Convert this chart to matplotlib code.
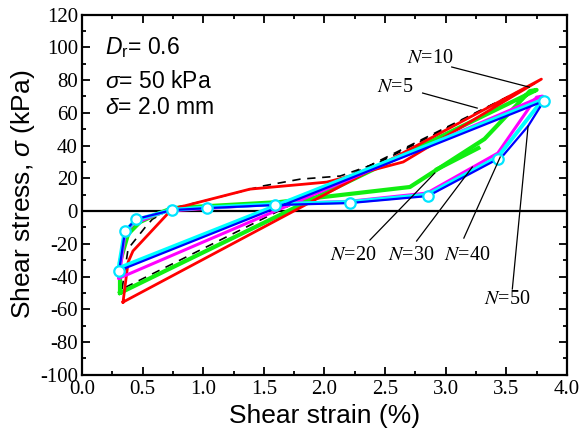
import numpy as np
import matplotlib.pyplot as plt

plt.rcParams['axes.unicode_minus'] = False
plt.rcParams['mathtext.fontset'] = 'custom'
plt.rcParams['mathtext.rm'] = 'Liberation Sans'
plt.rcParams['mathtext.it'] = 'Liberation Sans:italic'

# loops: loading branch, then straight unloading back to the start
n5_x = [0.33, 0.38, 0.52, 0.58, 0.74, 0.97, 1.49, 1.80, 2.13, 2.46, 3.76, 0.33]
n5_y = [-47.6, -23, -10, -5, 1.8, 5.5, 15.3, 19.5, 21.4, 30, 79, -47.6]

n10_x = [0.338, 0.38, 0.42, 0.742, 1.385, 2.02, 2.65, 3.79, 0.338]
n10_y = [-55.6, -31.2, -24.4, 1.2, 13.4, 17.7, 30, 80.6, -55.6]

n20_x = [0.313, 0.313, 0.38, 0.478, 0.62, 0.742, 1.63, 2.705, 3.32, 3.695, 3.75, 0.313]
n20_y = [-50, -31.2, -14, -6.7, -1.8, 1.8, 5.5, 14.7, 44, 73.3, 74, -50]
n20_stub_x = [2.93, 3.27]
n20_stub_y = [25.6, 38.5]

n30_x = [0.305, 0.355, 0.42, 0.585, 0.70, 1.59, 2.21, 2.845, 3.43, 3.75, 3.80, 0.305]
n30_y = [-41, -14, -8, -3, 0, 4.3, 6.0, 11, 35.4, 69.6, 70.2, -41]

n40_x = [0.30, 0.35, 0.44, 0.74, 1.03, 1.59, 2.21, 2.85, 3.43, 3.80, 0.33, 0.30]
n40_y = [-35.5, -13, -5.5, 0.8, 2.2, 4.2, 5.6, 10, 33, 68, -34, -35.5]

n50_x = [0.305, 0.355, 0.445, 0.742, 1.03, 1.59, 2.21, 2.855, 3.43, 3.47, 3.68, 3.81, 0.338, 0.305]
n50_y = [-36.7, -12.2, -4.9, 0.6, 1.8, 3.7, 4.9, 9.2, 31.8, 33.6, 51.9, 67.2, -35.4, -36.7]
n50_marks = [0, 1, 2, 3, 4, 5, 6, 7, 8, 11]

labels = ['10', '5', '20', '30', '40', '50']
label_xy = [(2.87, 92.9), (2.58, 75.7), (2.235, -26.9), (2.72, -26.9), (3.18, -26.9), (3.51, -53.8)]
leader_from = [(3.05, 88), (2.81, 72.1), (2.375, -17.7), (2.76, -18.3), (3.15, -16.5), (3.55, -47.6)]
leader_to = [(3.69, 75.7), (3.26, 62.9), (2.91, 23.2), (3.22, 26.9), (3.45, 33), (3.68, 51.9)]

fig = plt.figure(figsize=(5.82, 4.43), dpi=100)
ax = fig.add_subplot(111)
fig.subplots_adjust(left=0.141, right=0.974, top=0.967, bottom=0.154)

ax.axhline(0, color='black', lw=1.6, zorder=1)

ax.plot(n5_x, n5_y, color='black', lw=1.2, ls=(0, (5, 4)), zorder=2)
ax.plot(n20_x, n20_y, color='#11ee11', lw=3.0, zorder=3)
ax.plot(n20_stub_x, n20_stub_y, color='#11ee11', lw=3.0, zorder=3)
ax.plot(n10_x, n10_y, color='red', lw=2.0, zorder=4)
ax.plot(n30_x, n30_y, color='magenta', lw=2.2, zorder=5)
ax.plot(n40_x, n40_y, color='#00ffff', lw=2.8, zorder=6)
ax.plot(n50_x, n50_y, color='blue', lw=1.6, zorder=7,
        marker='o', markevery=n50_marks, markersize=7.5,
        markerfacecolor='white', markeredgecolor='#00e5ff', markeredgewidth=1.6)

for lab, (tx, ty), (x0, y0), (x1, y1) in zip(labels, label_xy, leader_from, leader_to):
    ax.plot([x0, x1], [y0, y1], color='black', lw=0.9, zorder=8)
    ax.text(tx, ty, '$N$=' + lab, ha='center', va='center', fontsize=14.5,
            family='Liberation Serif', math_fontfamily='stix')

ax.text(0.19, 100, r'$D_{\rm r}$= 0.6', fontsize=16.5, va='center', family='Liberation Sans')
ax.text(0.19, 79.4, r'$\sigma$= 50 kPa', fontsize=16.5, va='center', family='Liberation Sans')
ax.text(0.19, 63.5, r'$\delta$= 2.0 mm', fontsize=16.5, va='center', family='Liberation Sans')

ax.set_xlim(0, 4)
ax.set_ylim(-100, 120)
ax.set_xticks(np.arange(0, 4.01, 0.5))
ax.set_xticks(np.arange(0, 4.01, 0.25), minor=True)
ax.set_yticks(np.arange(-100, 121, 20))
ax.set_yticks(np.arange(-100, 121, 10), minor=True)
ax.set_xticklabels(['%.1f' % v for v in np.arange(0, 4.01, 0.5)])
ax.tick_params(which='both', direction='in', top=True, right=True, width=1.3)
ax.tick_params(which='major', length=6, labelsize=15, pad=3)
ax.tick_params(axis='x', which='major', pad=4)
ax.tick_params(which='minor', length=3)
for t in ax.get_xticklabels() + ax.get_yticklabels():
    t.set_family('Liberation Serif')
for s in ax.spines.values():
    s.set_linewidth(1.6)

ax.set_xlabel('Shear strain (%)', fontsize=19, family='Liberation Sans', labelpad=3)
ax.set_ylabel(r'Shear stress, $\sigma$ (kPa)', fontsize=19, family='Liberation Sans', labelpad=2)

fig.savefig('out.png', dpi=100)
